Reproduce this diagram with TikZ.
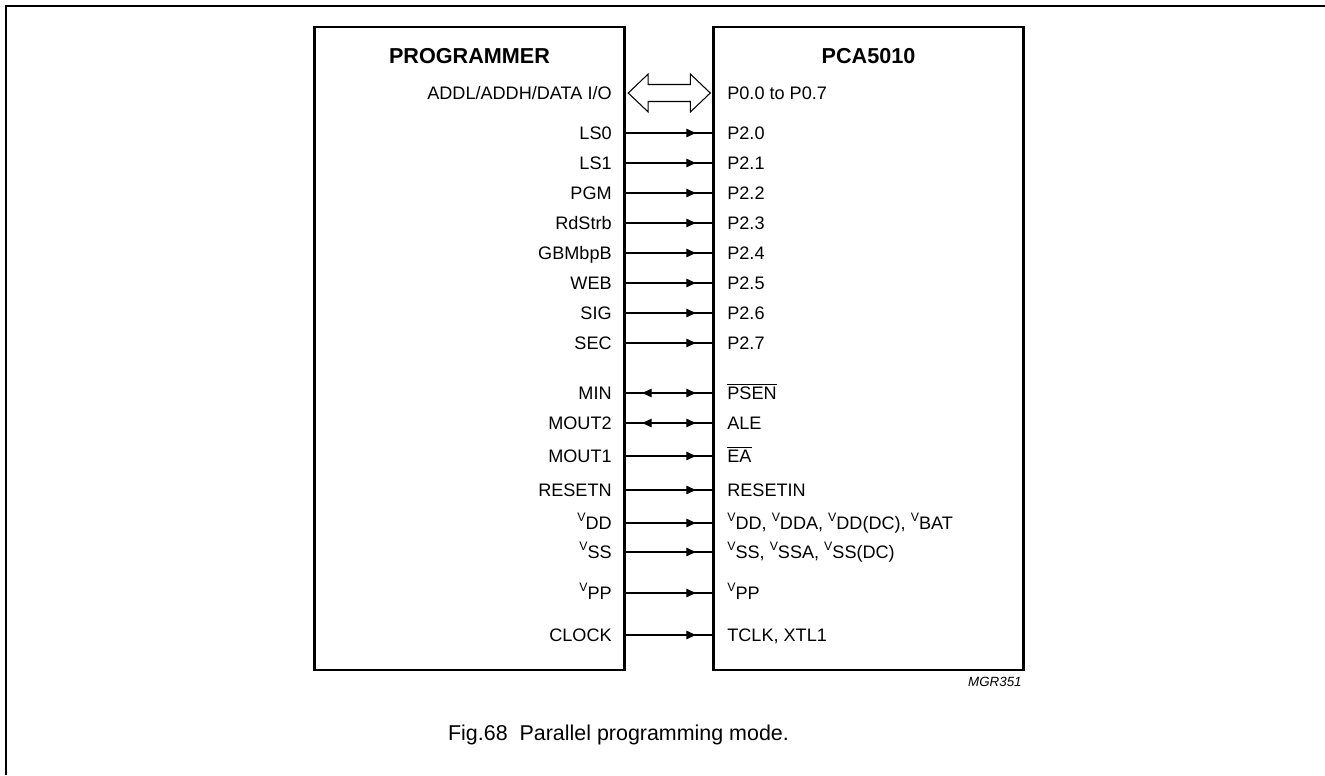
\documentclass[tikz,border=0pt]{standalone}
\usepackage{fontspec}
\setmainfont{Liberation Sans}
\usetikzlibrary{arrows.meta,positioning,decorations.markings,calc}

\newcommand{\vsub}[1]{\raisebox{4.8pt}{\fontsize{7}{8}\selectfont V}#1}
\newcommand{\ovl}[1]{$\overline{\mbox{#1}}$}

\begin{document}
\begin{tikzpicture}[
  x=0.02cm,
  y=-0.02cm,
  font=\fontsize{10.3}{12}\selectfont,
  chip/.style={
    draw,
    line width=1.4pt,
    minimum width=6.2cm,
    minimum height=12.86cm,
    inner sep=0pt
  },
  chiptitle/.style={
    anchor=base,
    font=\fontsize{12.3}{14}\selectfont\bfseries
  },
  pinl/.style={anchor=base east, inner sep=0pt},
  pinr/.style={anchor=base west, inner sep=0pt},
  sig/.style={
    line width=0.6pt,
    postaction={decorate},
    decoration={markings,
      mark=at position 0.81 with {\arrow{Triangle[length=1.9mm,width=1.7mm]}}}
  },
  bisig/.style={
    line width=0.6pt,
    postaction={decorate},
    decoration={markings,
      mark=at position 0.19 with {\arrowreversed{Triangle[length=1.9mm,width=1.7mm]}},
      mark=at position 0.81 with {\arrow{Triangle[length=1.9mm,width=1.7mm]}}}
  },
  bus/.style={
    draw,
    fill=white,
    line width=0.6pt,
    line join=miter
  },
  outerframe/.style={line width=1.2pt}
]
\useasboundingbox (0,0) rectangle (1325,775);

%---------------------------------
% Outer frame
%---------------------------------
\draw[outerframe] (6,775) -- (6,6) -- (1325,6);

%---------------------------------
% Chips
%---------------------------------
\node[chip] (prog) at (469.5,348.5) {};
\node[chip] (pca)  at (868.5,348.5) {};

\node[chiptitle] (progtitle) at (469.5,63) {PROGRAMMER};
\node[chiptitle] (pcatitle)  at (868.5,63) {PCA5010};

%---------------------------------
% Data bus
%---------------------------------
\coordinate (busrow) at (669,93);
\node[pinl] (lbus) at (612,99.5) {ADDL/ADDH/DATA I/O};
\node[pinr] (rbus) at (727,99.5) {P0.0 to P0.7};
\coordinate (busl) at ($(prog.east |- busrow)+(2.5,0)$);
\coordinate (busr) at ($(pca.west |- busrow)+(-2,0)$);
\draw[bus] (busl) -- ++(20,-19) -- ++(0,10.5) -- ($(busr)+(-20,-8.5)$)
  -- ++(0,-10.5) -- (busr) -- ++(-20,19) -- ++(0,-10.5)
  -- ($(busl)+(20,8.5)$) -- ++(0,10.5) -- cycle;

%---------------------------------
% Signal lines
%---------------------------------
\foreach \y/\lft/\rgt/\kind [count=\i] in {
  133/LS0/P2.0/sig,
  163/LS1/P2.1/sig,
  193/PGM/P2.2/sig,
  223/RdStrb/P2.3/sig,
  253/GBMbpB/P2.4/sig,
  283/WEB/P2.5/sig,
  313/SIG/P2.6/sig,
  343/SEC/P2.7/sig,
  393/MIN/\ovl{PSEN}/bisig,
  423/MOUT2/ALE/bisig,
  456/MOUT1/\ovl{EA}/sig,
  490/RESETN/RESETIN/sig,
  523/\vsub{DD}/{\vsub{DD}, \vsub{DDA}, \vsub{DD(DC)}, \vsub{BAT}}/sig,
  552/\vsub{SS}/{\vsub{SS}, \vsub{SSA}, \vsub{SS(DC)}}/sig,
  593/\vsub{PP}/\vsub{PP}/sig,
  635/CLOCK/{TCLK, XTL1}/sig}
{
  \coordinate (row\i) at (669,\y);
  \node[pinl] (l\i) at (612,\y+6.5) {\lft};
  \node[pinr] (r\i) at (727,\y+6.5) {\rgt};
  \draw[\kind] (prog.east |- row\i) -- (pca.west |- row\i);
}

%---------------------------------
% Labels
%---------------------------------
\node[anchor=base east, inner sep=0pt, font=\fontsize{7.6}{9}\selectfont\itshape] (code) at (1022,686) {MGR351};
\node[anchor=base, inner sep=0pt, font=\fontsize{12.2}{14}\selectfont] (caption) at (618.5,740) {Fig.68\ \ Parallel programming mode.};

\end{tikzpicture}
\end{document}
